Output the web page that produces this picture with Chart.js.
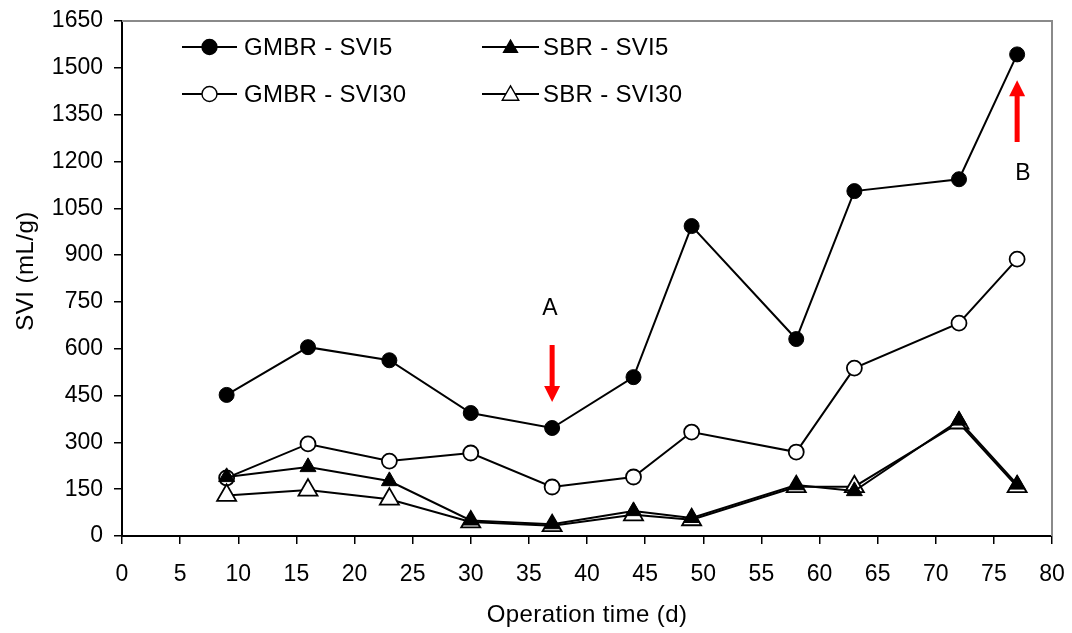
<!DOCTYPE html>
<html><head><meta charset="utf-8">
<script src="https://cdn.jsdelivr.net/npm/chart.js@4/dist/chart.umd.min.js"></script>
<style>html,body{margin:0;padding:0;background:#fff;overflow:hidden}#wrap{width:1072px;height:633px;position:relative}</style>
</head><body><div id="wrap"><canvas id="c"></canvas></div>
<script>
// ---- data ----
const days = [9, 16, 23, 30, 37, 44, 49, 58, 63, 72, 77];
const gmbrSvi5  = [452, 605, 563, 394, 346, 509, 993, 631, 1105, 1143, 1543];
const gmbrSvi30 = [186, 295, 240, 266, 157, 189, 333, 269, 538, 682, 887];
const sbrSvi5   = [189, 221, 176, 50, 38, 80, 58, 163, 144, 370, 165];
const sbrSvi30  = [130, 147, 118, 45, 33, 68, 52, 158, 158, 362, 158];
const seriesNames = ['GMBR - SVI5', 'GMBR - SVI30', 'SBR - SVI5', 'SBR - SVI30'];
const xTicks = [0, 5, 10, 15, 20, 25, 30, 35, 40, 45, 50, 55, 60, 65, 70, 75, 80];
const yTicks = [0, 150, 300, 450, 600, 750, 900, 1050, 1200, 1350, 1500, 1650];
const xTitle = 'Operation time (d)';
const yTitle = 'SVI (mL/g)';
// annotation arrows (data coordinates)
const arrowLabels = ['A', 'B'];
const arrowX = [37, 77];
const arrowFrom = [612, 1262];
const arrowTo = [429, 1460];
const labelX = [36.8, 77.5];
const labelY = [727, 1162];

const FONT = "'Liberation Sans', Arial, sans-serif";
const pts = vals => vals.map((v, i) => ({x: days[i], y: v}));

function marker(ctx, style, filled, r, x, y, bw) {
  ctx.beginPath();
  if (style === 'circle') {
    ctx.arc(x, y, r, 0, Math.PI * 2);
  } else {
    for (let k = 0; k < 3; k++) {
      const a = k * 2 * Math.PI / 3;
      const px = x + Math.sin(a) * r, py = y - Math.cos(a) * r + r * 0.15;
      if (k === 0) ctx.moveTo(px, py); else ctx.lineTo(px, py);
    }
    ctx.closePath();
  }
  ctx.fillStyle = filled ? '#000' : '#fff';
  ctx.fill();
  ctx.lineWidth = bw;
  ctx.strokeStyle = '#000';
  ctx.stroke();
}

const overlay = {
  id: 'overlay',
  beforeDatasetsDraw(chart) {
    const {ctx, chartArea: a} = chart;
    ctx.save();
    ctx.strokeStyle = '#8a8a8a';
    ctx.lineWidth = 2;
    ctx.beginPath();
    ctx.moveTo(a.left, a.top);
    ctx.lineTo(a.right, a.top);
    ctx.lineTo(a.right, a.bottom);
    ctx.stroke();
    // axis titles
    ctx.fillStyle = '#000';
    ctx.font = '24px ' + FONT;
    ctx.letterSpacing = '0.4px';
    ctx.textAlign = 'center';
    ctx.textBaseline = 'alphabetic';
    ctx.fillText(xTitle, (a.left + a.right) / 2, 622);
    ctx.save();
    ctx.translate(33, 271);
    ctx.rotate(-Math.PI / 2);
    ctx.letterSpacing = '0.5px';
    ctx.fillText(yTitle, 0, 0);
    ctx.restore();
    ctx.restore();
  },
  afterDatasetsDraw(chart) {
    const {ctx, scales: {x, y}} = chart;
    ctx.save();
    for (let i = 0; i < arrowLabels.length; i++) {
      const px = x.getPixelForValue(arrowX[i]);
      const y0 = y.getPixelForValue(arrowFrom[i]);
      const y1 = y.getPixelForValue(arrowTo[i]);
      const dir = y1 > y0 ? 1 : -1;
      const headLen = 16, headW = 8, shaftW = 2.5;
      const yb = y1 - dir * headLen;
      ctx.fillStyle = '#ff0000';
      ctx.beginPath();
      ctx.moveTo(px - shaftW, y0);
      ctx.lineTo(px + shaftW, y0);
      ctx.lineTo(px + shaftW, yb);
      ctx.lineTo(px + headW, yb);
      ctx.lineTo(px, y1);
      ctx.lineTo(px - headW, yb);
      ctx.lineTo(px - shaftW, yb);
      ctx.closePath();
      ctx.fill();
      ctx.fillStyle = '#000';
      ctx.font = '23px ' + FONT;
      ctx.textAlign = 'center';
      ctx.textBaseline = 'middle';
      ctx.fillText(arrowLabels[i], x.getPixelForValue(labelX[i]), y.getPixelForValue(labelY[i]));
    }
    // legend
    const ds = chart.data.datasets;
    const cols = [{l: 182, r: 237, t: 244}, {l: 482, r: 539, t: 543}];
    const rows = [47, 94];
    const place = [[0, 0], [0, 1], [1, 0], [1, 1]];
    ds.forEach((d, i) => {
      const c = cols[place[i][0]], ry = rows[place[i][1]];
      ctx.strokeStyle = '#000';
      ctx.lineWidth = 1.8;
      ctx.beginPath();
      ctx.moveTo(c.l, ry); ctx.lineTo(c.r, ry); ctx.stroke();
      const mx = (c.l + c.r) / 2;
      const filled = d.pointBackgroundColor === '#000';
      const r = d.pointStyle === 'circle' ? 7.5 : (filled ? 8 : 9.5);
      marker(ctx, d.pointStyle, filled, r, mx, ry, 1.4);
      ctx.fillStyle = '#000';
      ctx.font = '24px ' + FONT;
      ctx.letterSpacing = '0.3px';
      ctx.textAlign = 'left';
      ctx.textBaseline = 'alphabetic';
      ctx.fillText(d.label, c.t, ry + 7.5);
      ctx.letterSpacing = '0px';
    });
    ctx.restore();
  }
};

const common = {borderColor: '#000', borderWidth: 2, showLine: true, tension: 0, pointBorderColor: '#000'};
const noPad = s => { s.paddingLeft = 0; s.paddingRight = 0; s.paddingTop = 0; s.paddingBottom = 0; };

new Chart(document.getElementById('c'), {
  type: 'scatter',
  data: {
    datasets: [
      Object.assign({}, common, {label: seriesNames[0], data: pts(gmbrSvi5), pointStyle: 'circle', pointRadius: 7.5, pointBackgroundColor: '#000', pointBorderWidth: 1, order: 3}),
      Object.assign({}, common, {label: seriesNames[1], data: pts(gmbrSvi30), pointStyle: 'circle', pointRadius: 7.5, pointBackgroundColor: '#fff', pointBorderWidth: 1.8, order: 2}),
      Object.assign({}, common, {label: seriesNames[2], data: pts(sbrSvi5), pointStyle: 'triangle', pointRadius: 9.2, pointBackgroundColor: '#000', pointBorderWidth: 1, order: 0}),
      Object.assign({}, common, {label: seriesNames[3], data: pts(sbrSvi30), pointStyle: 'triangle', pointRadius: 11, pointBackgroundColor: '#fff', pointBorderWidth: 1.8, order: 1})
    ]
  },
  options: {
    responsive: true,
    maintainAspectRatio: false,
    animation: false,
    devicePixelRatio: 1,
    layout: {padding: {left: 0, top: 21, right: 20, bottom: 0}},
    plugins: {legend: {display: false}, tooltip: {enabled: false}},
    scales: {
      x: {
        type: 'linear', min: 0, max: 80,
        afterBuildTicks: s => { s.ticks = xTicks.map(v => ({value: v})); },
        afterFit: s => { s.height = 97; noPad(s); },
        grid: {display: true, drawOnChartArea: false, drawTicks: true, tickLength: 8, color: '#000', lineWidth: 1.5},
        border: {display: true, color: '#000', width: 2},
        ticks: {color: '#000', font: {family: FONT, size: 23}, padding: 17, maxRotation: 0, autoSkip: false,
                callback: v => String(v)},
        title: {display: false}
      },
      y: {
        type: 'linear', min: 0, max: 1650,
        afterBuildTicks: s => { s.ticks = yTicks.map(v => ({value: v})); },
        afterFit: s => { s.width = 122; noPad(s); },
        grid: {display: true, drawOnChartArea: false, drawTicks: true, tickLength: 8, color: '#000', lineWidth: 1.5},
        border: {display: true, color: '#000', width: 2},
        ticks: {color: '#000', font: {family: FONT, size: 23}, padding: 11, autoSkip: false,
                callback: v => String(v)},
        title: {display: false}
      }
    }
  },
  plugins: [overlay]
});
</script>
</body></html>
